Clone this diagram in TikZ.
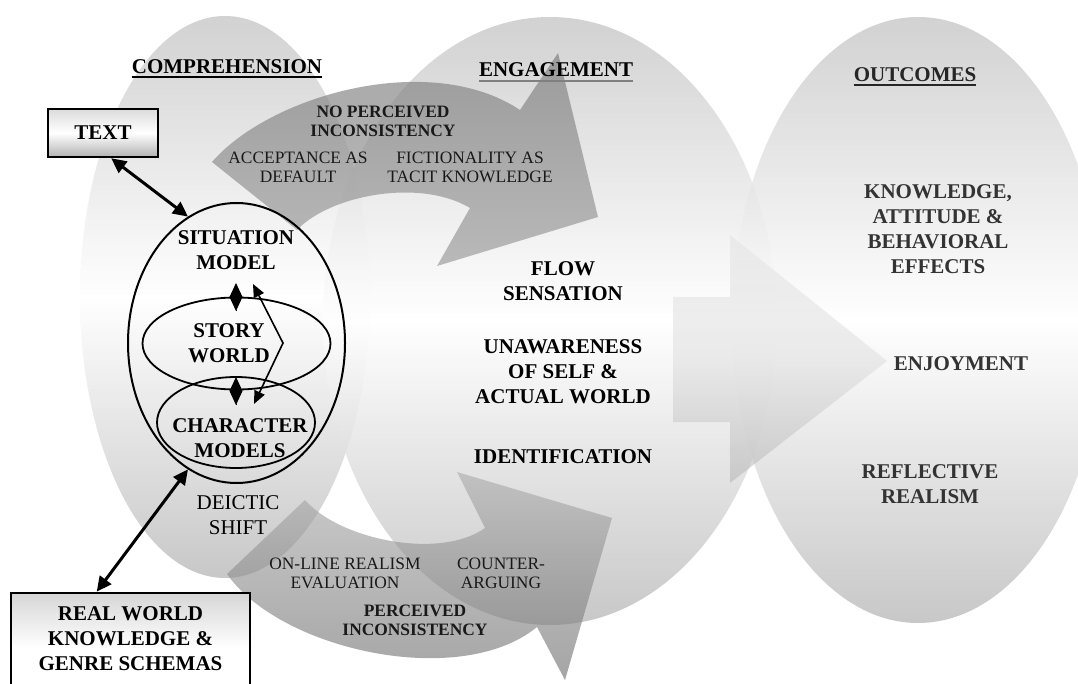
\documentclass[tikz,border=0pt]{standalone}
\usepackage{fontspec}
\setmainfont{Liberation Serif}
\usetikzlibrary{arrows.meta,shapes.geometric,calc}
\begin{document}
\begin{tikzpicture}[x=1pt,y=-1pt,
  bigb/.style={font=\fontsize{21}{25}\selectfont\bfseries, align=center, inner sep=0pt},
  bigreg/.style={font=\fontsize{21}{25}\selectfont, align=center, inner sep=0pt},
  smallreg/.style={font=\fontsize{17.4}{19}\selectfont, align=center, inner sep=0pt, text=black!90},
  smallb/.style={font=\fontsize{17.4}{19}\selectfont\bfseries, align=center, inner sep=0pt, text=black!90},
  outtxt/.style={bigb, text=black!80},
  bigell/.style={fill opacity=0.8, top color=black!22, bottom color=black!27, middle color=white},
  toparrow/.style={fill opacity=0.65, top color=black!52, bottom color=black!40},
  botarrow/.style={fill opacity=0.62, top color=black!32, bottom color=black!58},
  rarrow/.style={fill opacity=0.6, top color=black!10, bottom color=black!28, middle color=black!12},
  boxnode/.style={draw, line width=2.5pt, inner sep=0pt},
  modelell/.style={draw, ellipse, inner sep=0pt, line width=1.8pt},
  dblarrow/.style={line width=3pt, {Triangle[length=15pt,width=14pt]}-{Triangle[length=15pt,width=14pt]}},
  thinarrow/.style={line width=1.6pt, {Triangle[length=13pt,width=11pt]}-{Triangle[length=13pt,width=11pt]}},
  diaarrow/.style={line width=1pt, -{Diamond[length=28pt,width=13pt]}},
  uline/.style={line width=2.5pt}
]
\useasboundingbox (0,0) rectangle (1078,684);
\clip (0,0) rectangle (1078,684);
\fill[white] (0,0) rectangle (1078,684);

% big ellipses
\shade[bigell] (225,297) ellipse [x radius=145, y radius=281];
\shade[bigell] (550,321) ellipse [x radius=227, y radius=304];
\shade[bigell] (918,320) ellipse [x radius=186, y radius=303];

% curved arrows
\shade[toparrow] (212,162) .. controls (270,95) and (430,50) .. (520,110)
  -- (558,53) -- (598,217) -- (437,266) -- (470,208)
  .. controls (420,178) and (330,195) .. (297,230) -- cycle;
\shade[botarrow] (305,500) .. controls (340,540) and (440,560) .. (485,528)
  -- (457,472) -- (612,518) -- (565,680) -- (537,627)
  .. controls (460,690) and (280,650) .. (227,574) -- cycle;
\shade[rarrow] (673,297) -- (730,297) -- (730,235) -- (887,361) -- (730,483)
  -- (730,422) -- (673,422) -- cycle;

% headings
\node[bigb, anchor=base] (hcomp) at (227,74) {COMPREHENSION};
\draw[uline] ([yshift=-3pt]hcomp.base west) -- ([yshift=-3pt]hcomp.base east);
\node[bigb, anchor=base] (heng) at (556,77) {ENGAGEMENT};
\draw[uline, black!50] ([yshift=-4pt]heng.base west) -- ([yshift=-4pt]heng.base east);
\node[bigb, anchor=base, text=black!85] (hout) at (915,81.5) {OUTCOMES};
\draw[uline, black!85, line width=2pt] ([yshift=-3.5pt]hout.base west) -- ([yshift=-3.5pt]hout.base east);

% boxes
\node[boxnode, minimum width=110pt, minimum height=48pt,
      top color=black!14, bottom color=black!30, middle color=white,
      font=\fontsize{21}{25}\selectfont\bfseries] (textbox) at (103,133) {TEXT};
\node[boxnode, minimum width=239pt, minimum height=110pt,
      top color=black!16, bottom color=white, middle color=white] (rwbox) at (130.5,648) {};
\node[bigb] (rwtext) at (130.5,639) {REAL WORLD\\KNOWLEDGE \&\\GENRE SCHEMAS};

% model ellipses
\node[modelell, line width=2pt, minimum width=217pt, minimum height=280pt] (sit) at (236.5,343) {};
\node[modelell, minimum width=188pt, minimum height=92pt] (story) at (236.5,343.5) {};
\node[modelell, minimum width=158pt, minimum height=91pt] (char) at (236,422.5) {};

\node[bigb] (sittxt) at (236,250.5) {SITUATION\\MODEL};
\node[bigb] (storytxt) at (229,343) {STORY\\WORLD};
\node[bigb] (chartxt) at (240,438.5) {CHARACTER\\MODELS};
\node[bigreg] (deictic) at (238,515.5) {DEICTIC\\SHIFT};

% connectors
\draw[dblarrow] (textbox.-72) -- (sit.111);
\draw[dblarrow] (rwbox.121) -- (sit.249);
\coordinate (pa) at (253,284);
\coordinate (pb) at (283,343);
\coordinate (pc) at (254,404);
\draw[thinarrow] (pa) -- (pb) -- (pc);
\coordinate (da1) at (236,311);
\coordinate (da2) at (236,283);
\coordinate (db1) at (236,405);
\coordinate (db2) at (236,377);
\draw[diaarrow] (da1) -- (da2);
\draw[diaarrow] (db1) -- (db2);

% arrow labels
\node[smallb] (noperc) at (383,121) {NO PERCEIVED\\INCONSISTENCY};
\node[smallreg] (accept) at (298,167.5) {ACCEPTANCE AS\\DEFAULT};
\node[smallreg] (fiction) at (470,167.5) {FICTIONALITY AS\\TACIT KNOWLEDGE};
\node[smallreg] (online) at (345,573) {ON-LINE REALISM\\EVALUATION};
\node[smallreg] (counter) at (501,573) {COUNTER-\\ARGUING};
\node[smallb] (perc) at (415,620) {PERCEIVED\\INCONSISTENCY};

% engagement
\node[bigb] (flow) at (563,281) {FLOW\\SENSATION};
\node[bigb] (unaware) at (563,372) {UNAWARENESS\\OF SELF \&\\ACTUAL WORLD};
\node[bigb] (ident) at (563,457) {IDENTIFICATION};

% outcomes
\node[outtxt] (know) at (938,229) {KNOWLEDGE,\\ATTITUDE \&\\BEHAVIORAL\\EFFECTS};
\node[outtxt] (enjoy) at (961,364) {ENJOYMENT};
\node[outtxt] (reflect) at (930,484.5) {REFLECTIVE\\REALISM};
\end{tikzpicture}
\end{document}
